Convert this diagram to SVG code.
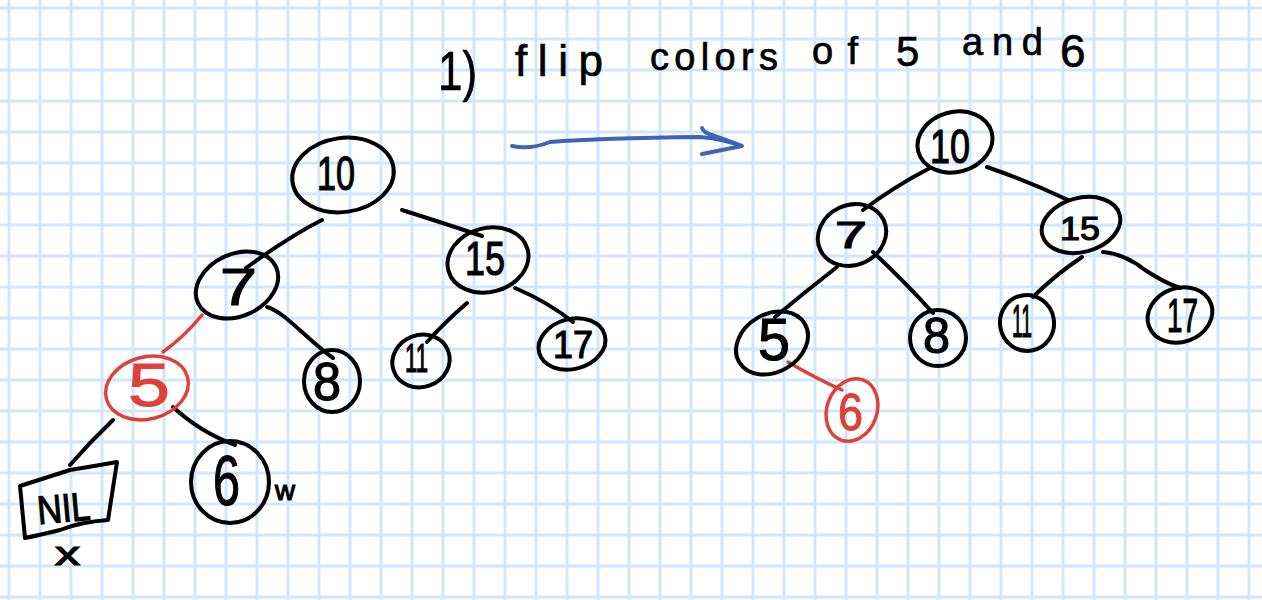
<svg xmlns="http://www.w3.org/2000/svg" width="1262" height="600" viewBox="0 0 1262 600">
  <defs>
    <pattern id="grid" x="7.5" y="6.5" width="31" height="31" patternUnits="userSpaceOnUse">
      <rect x="0" y="0" width="31" height="3" fill="#d0e7fa"/>
      <rect x="0" y="0" width="3" height="31" fill="#d0e7fa"/>
    </pattern>
    <style>
      .n { fill: none; stroke: #000; stroke-width: 4; }
      .r { fill: none; stroke: #e0403a; stroke-width: 3.5; }
      .e { fill: none; stroke: #000; stroke-width: 4; stroke-linecap: round; }
      .er { fill: none; stroke: #e0403a; stroke-width: 3.5; stroke-linecap: round; }
      .t { font-family: "Liberation Sans", Arial, sans-serif; fill: #000; stroke: #000; stroke-width: 1.2; }
      .tr { font-family: "Liberation Sans", Arial, sans-serif; fill: #e0403a; stroke: #e0403a; stroke-width: 1; }
      .ttl { font-family: "Liberation Sans", Arial, sans-serif; fill: #000; stroke: #000; stroke-width: 0.7; }
    </style>
  </defs>
  <rect width="1262" height="600" fill="#fff"/>
  <rect width="1262" height="600" fill="url(#grid)"/>

  <g id="title">
    <text class="ttl" x="438" y="90" font-size="56" textLength="39" lengthAdjust="spacingAndGlyphs">1)</text>
    <text class="ttl" x="515" y="76" font-size="44" textLength="88" lengthAdjust="spacing">flip</text>
    <text class="ttl" x="650" y="70" font-size="38" textLength="128" lengthAdjust="spacing">colors</text>
    <text class="ttl" x="812" y="64" font-size="38" textLength="46" lengthAdjust="spacing">of</text>
    <text class="ttl" x="896" y="66" font-size="42">5</text>
    <text class="ttl" x="962" y="55" font-size="38" textLength="81" lengthAdjust="spacing">and</text>
    <text class="ttl" x="1060" y="67" font-size="46">6</text>
  </g>

  <g id="connectors">
    <path class="e" d="M322,220 Q290,236 246,268"/>
    <path class="e" d="M402,210 Q440,222 482,236"/>
    <path class="e" d="M267,307 C285,312 305,338 333,358"/>
    <path class="e" d="M467,303 Q445,322 427,342"/>
    <path class="e" d="M515,288 Q548,302 573,322"/>
    <path class="er" d="M202,315 Q185,336 163,352"/>
    <path class="e" d="M113,420 Q90,442 70,465"/>
    <path class="e" d="M173,407 Q200,432 235,445"/>

    <path class="e" d="M930,168 Q895,186 863,210"/>
    <path class="e" d="M987,167 Q1030,182 1068,200"/>
    <path class="e" d="M837,267 Q805,292 775,317"/>
    <path class="e" d="M873,252 Q905,282 933,313"/>
    <path class="e" d="M1082,257 Q1055,275 1033,297"/>
    <path class="e" d="M1103,252 Q1125,254 1145,270 Q1165,283 1180,288"/>
    <path class="er" d="M788,362 Q815,378 842,390"/>

    <path fill="none" stroke="#3f63b5" stroke-width="4" stroke-linecap="round" d="M512,146 Q530,150 550,142 Q600,138 700,137 Q725,139 740,146"/>
    <path fill="none" stroke="#3f63b5" stroke-width="4" stroke-linecap="round" stroke-linejoin="round" d="M702,128 Q704,133 712,135 L742,146 L702,154"/>
  </g>

  <g id="n10a"><ellipse class="n" cx="343" cy="175" rx="51" ry="37" transform="rotate(-8 343 175)"/><text class="t" x="317" y="190" font-size="49" textLength="38" lengthAdjust="spacingAndGlyphs">10</text></g>
  <g id="n7a"><ellipse class="n" cx="237" cy="285" rx="43" ry="31" transform="rotate(-25 237 285)"/><text class="t" x="220" y="305" font-size="52" textLength="37" lengthAdjust="spacingAndGlyphs">7</text></g>
  <g id="n15a"><ellipse class="n" cx="488" cy="260" rx="41" ry="32" transform="rotate(-15 488 260)"/><text class="t" x="465" y="275" font-size="49" textLength="40" lengthAdjust="spacingAndGlyphs">15</text></g>
  <g id="n8a"><ellipse class="n" cx="332" cy="381" rx="28" ry="31"/><text class="t" x="313" y="400" font-size="53" textLength="28" lengthAdjust="spacingAndGlyphs">8</text></g>
  <g id="n11a"><ellipse class="n" cx="421" cy="361" rx="29" ry="26" transform="rotate(-20 421 361)"/><text class="t" x="405" y="372" font-size="40" textLength="23" lengthAdjust="spacingAndGlyphs">11</text></g>
  <g id="n17a"><ellipse class="n" cx="572" cy="344" rx="34" ry="25" transform="rotate(-15 572 344)"/><text class="t" x="553" y="358" font-size="39" textLength="40" lengthAdjust="spacingAndGlyphs">17</text></g>
  <g id="n5a"><ellipse class="r" cx="147" cy="388" rx="42" ry="31" transform="rotate(-15 147 388)"/><text class="tr" x="128" y="406" font-size="62" textLength="42" lengthAdjust="spacingAndGlyphs">5</text></g>
  <g id="nil"><path class="n" stroke-linejoin="round" d="M20,486 Q45,478 70,470 Q95,466 117,462 L108,520 Q80,522 60,530 Q40,535 25,538 Z"/><text class="t" x="37" y="522" font-size="40" textLength="53" lengthAdjust="spacingAndGlyphs" transform="rotate(-5 63 507)">NIL</text></g>
  <g id="n6a"><ellipse class="n" cx="230" cy="482" rx="39" ry="41"/><text class="t" x="213" y="505" font-size="70" textLength="27" lengthAdjust="spacingAndGlyphs">6</text></g>
  <text class="t" x="275" y="500" font-size="28" textLength="20" lengthAdjust="spacingAndGlyphs">w</text>
  <text class="t" x="55" y="565" font-size="34" textLength="25" lengthAdjust="spacingAndGlyphs">x</text>

  <g id="n10b"><ellipse class="n" cx="955" cy="142" rx="38" ry="30" transform="rotate(-15 955 142)"/><text class="t" x="930" y="163" font-size="49" textLength="40" lengthAdjust="spacingAndGlyphs">10</text></g>
  <g id="n7b"><ellipse class="n" cx="852" cy="235" rx="35" ry="30" transform="rotate(-25 852 235)"/><text class="t" x="835" y="248" font-size="37" textLength="32" lengthAdjust="spacingAndGlyphs">7</text></g>
  <g id="n15b"><ellipse class="n" cx="1081" cy="225" rx="40" ry="27" transform="rotate(-15 1081 225)"/><text class="t" x="1060" y="240" font-size="33" textLength="40" lengthAdjust="spacingAndGlyphs">15</text></g>
  <g id="n5b"><ellipse class="n" cx="772" cy="343" rx="38" ry="29" transform="rotate(-30 772 343)"/><text class="t" x="758" y="360" font-size="60" textLength="32" lengthAdjust="spacingAndGlyphs">5</text></g>
  <g id="n8b"><ellipse class="n" cx="938" cy="338" rx="28" ry="28"/><text class="t" x="923" y="353" font-size="50" textLength="27" lengthAdjust="spacingAndGlyphs">8</text></g>
  <g id="n11b"><ellipse class="n" cx="1027" cy="323" rx="27" ry="28" transform="rotate(-10 1027 323)"/><text class="t" x="1012" y="337" font-size="47" textLength="20" lengthAdjust="spacingAndGlyphs">11</text></g>
  <g id="n17b"><ellipse class="n" cx="1180" cy="315" rx="33" ry="27" transform="rotate(-20 1180 315)"/><text class="t" x="1167" y="332" font-size="49" textLength="31" lengthAdjust="spacingAndGlyphs">17</text></g>
  <g id="n6b"><ellipse class="r" cx="852" cy="410" rx="25" ry="32" transform="rotate(20 852 410)"/><text class="tr" x="838" y="430" font-size="52" textLength="25" lengthAdjust="spacingAndGlyphs">6</text></g>
</svg>
